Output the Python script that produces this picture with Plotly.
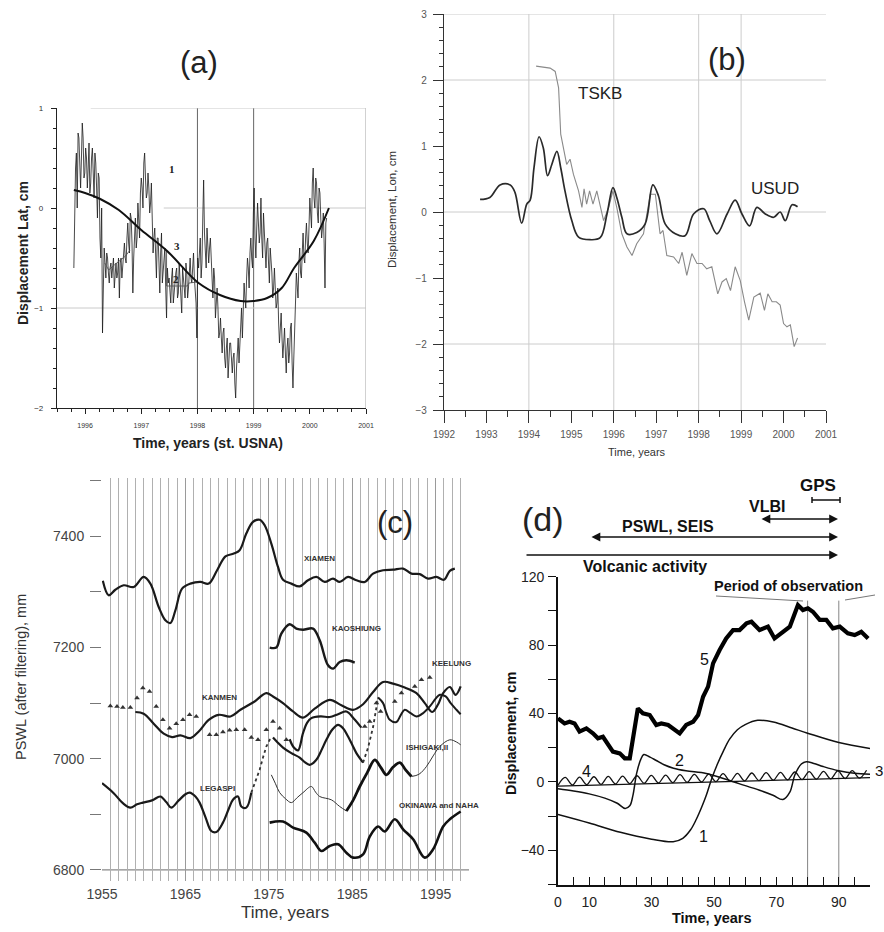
import plotly.graph_objects as go

W, H = 884, 932
FONT = "Liberation Sans, Arial, sans-serif"

# ---------------- Panel (a) data ----------------
# series 1, samples read at t = 1995.800 + 0.03*i
a_lat = [-0.6, 0.4, 0.0, 0.7, 0.2, 0.85, 0.3, 0.6, 0.2, 0.65,
         0.25, 0.6, 0.1, 0.45, -0.1, 0.3, -0.5, -1.25, -0.4, -0.7,
         -0.5, -0.75, -0.55, -0.6, -0.8, -0.55, -0.65, -0.9, -0.5, -0.6,
         -0.35, -0.55, -0.15, -0.45, -0.1, -0.85, -0.2, -0.4, 0.05, -0.3,
         0.3, 0.0, 0.55, 0.1, 0.35, -0.05, 0.25, -0.45, -0.2, -0.7,
         -0.3, -0.85, -0.25, -0.6, -0.4, -1.1, -0.75, -0.9, -0.7, -0.95,
         -0.75, -0.6, -0.85, -0.7, -1.05, -0.75, -0.9, -0.65, -0.8, -0.5,
         -0.75, -0.45, -0.85, -1.3, -0.6, -0.3, -0.55, 0.28, -0.4, -0.2,
         -0.55, -0.3, -0.75, -0.6, -1.1, -0.8, -1.3, -1.1, -1.45, -1.2,
         -1.6, -1.3, -1.55, -1.35, -1.65, -1.45, -1.9, -1.4, -1.55, -1.15,
         -1.3, -0.75, -1.0, -0.5, -0.8, -0.3, -0.6, 0.2, -0.5, 0.05,
         -0.35, 0.1, -0.5, -0.2, -0.6, -0.3, -0.75, -0.5, -0.9, -0.6,
         -1.0, -0.8, -1.35, -1.05, -1.5, -1.2, -1.65, -1.3, -1.45, -1.15,
         -1.8, -1.3, -0.65, -0.9, -0.4, -0.7, -0.25, -0.55, -0.15, -0.45,
         0.1, -0.2, 0.4, 0.0, 0.25, -0.15, 0.15, -0.3, -0.05, -0.8, -0.1]
# series 1, samples read at t = 1995.815 + 0.03*i
a_lat_mid = [0.1, 0.55, 0.75, 0.45, 0.5, 0.7, 0.35, 0.5, 0.4, 0.15,
             0.5, 0.35, 0.55, 0.2, 0.35, -0.3, 0.0, -0.8, -0.55, -0.45,
             -0.65, -0.6, -0.7, -0.5, -0.65, -0.7, -0.5, -0.55, -0.7, -0.45,
             -0.5, -0.3, -0.35, -0.05, -0.35, -0.5, -0.1, -0.3, -0.15, 0.15,
             0.2, 0.45, 0.3, 0.15, 0.2, 0.05, -0.1, -0.3, -0.45, -0.3,
             -0.55, -0.45, -0.75, -0.5, -0.8, -0.6, -0.7, -0.95, -0.6, -0.8,
             -0.65, -0.9, -0.55, -0.85, -0.6, -0.8, -0.55, -0.9, -0.6, -0.7,
             -0.6, -0.7, -0.95, -0.5, -0.4, -0.7, -0.1, -0.25, -0.6, -0.35,
             -0.4, -0.5, -0.9, -0.7, -0.95, -1.0, -1.25, -1.3, -1.25, -1.5,
             -1.4, -1.7, -1.35, -1.5, -1.5, -1.75, -1.6, -1.3, -1.35, -1.0,
             -1.05, -0.9, -0.7, -0.6, -0.45, -0.5, -0.05, -0.3, -0.2, -0.15,
             -0.25, -0.3, -0.05, -0.4, -0.35, -0.55, -0.4, -0.65, -0.8, -0.85,
             -0.95, -1.15, -1.2, -1.3, -1.35, -1.45, -1.4, -1.55, -1.2, -1.55,
             -1.5, -0.95, -0.8, -0.55, -0.65, -0.45, -0.5, -0.3, -0.35, -0.2,
             -0.05, 0.25, 0.1, 0.3, -0.05, 0.2, -0.1, -0.2, -0.35, -0.15]

a_trend_t = [1995.8, 1996.0, 1996.27, 1996.6, 1997.0, 1997.46, 1998.02, 1998.4,
             1998.77, 1999.0, 1999.24, 1999.5, 1999.72, 2000.07, 2000.34]
a_trend_v = [0.18, 0.15, 0.09, -0.02, -0.22, -0.43, -0.75, -0.87,
             -0.93, -0.93, -0.9, -0.8, -0.6, -0.33, 0.0]

a_fill_t = [1996.35, 1996.42, 1996.52, 1996.63, 1996.72, 1996.8, None,
            1997.45, 1997.45, 1997.82, 1997.85, 1998.0]
a_fill_v = [-0.55, -0.62, -0.57, -0.52, -0.48, -0.42, None,
            -0.43, -0.78, -0.78, -0.75, -0.74]

# ---------------- Panel (b) data ----------------
usud_t = [1992.85, 1993.08, 1993.32, 1993.56, 1993.67, 1993.83, 1993.95, 1994.03,
          1994.12, 1994.24, 1994.34, 1994.44, 1994.54, 1994.66, 1994.75, 1994.85,
          1995.01, 1995.17, 1995.44, 1995.68, 1995.84, 1995.98, 1996.07, 1996.19,
          1996.31, 1996.54, 1996.74, 1996.92, 1997.05, 1997.21, 1997.45, 1997.68,
          1997.88, 1998.12, 1998.26, 1998.43, 1998.67, 1998.86, 1999.02, 1999.20,
          1999.37, 1999.57, 1999.77, 1999.92, 2000.04, 2000.20, 2000.33]
usud_v = [0.19, 0.22, 0.41, 0.41, 0.30, -0.17, 0.12, 0.18,
          0.67, 1.14, 0.97, 0.55, 0.72, 0.92, 0.67, 0.32,
          -0.13, -0.38, -0.42, -0.39, -0.03, 0.37, 0.22, -0.08,
          -0.33, -0.31, -0.18, 0.41, 0.25, -0.18, -0.33, -0.36,
          -0.03, 0.05, -0.13, -0.33, -0.03, 0.18, -0.03, -0.21,
          0.07, -0.03, -0.08, 0.0, -0.13, 0.11, 0.08]

tskb_t = [1994.17, 1994.5, 1994.62, 1994.70, 1994.75, 1994.83, 1994.89, 1994.97,
          1995.05, 1995.17, 1995.25, 1995.30, 1995.36, 1995.43, 1995.51, 1995.60,
          1995.68, 1995.76, 1995.88, 1995.98, 1996.07, 1996.19, 1996.31, 1996.43,
          1996.54, 1996.70, 1996.86, 1996.98, 1997.09, 1997.16, 1997.25, 1997.41,
          1997.53, 1997.61, 1997.72, 1997.84, 1997.96, 1998.08, 1998.19, 1998.31,
          1998.45, 1998.55, 1998.65, 1998.75, 1998.86, 1998.98, 1999.08, 1999.18,
          1999.30, 1999.45, 1999.55, 1999.63, 1999.73, 1999.83, 1999.92, 2000.0,
          2000.08, 2000.16, 2000.25, 2000.33]
tskb_v = [2.21, 2.18, 2.13, 1.88, 1.18, 0.92, 0.72, 0.80,
          0.57, 0.32, 0.07, 0.35, 0.12, 0.32, 0.12, 0.32,
          0.07, -0.13, 0.07, 0.32, 0.07, -0.33, -0.53, -0.66,
          -0.48, -0.33, 0.27, 0.27, -0.33, -0.28, -0.66, -0.68,
          -0.78, -0.61, -0.96, -0.63, -0.78, -0.78, -0.86, -0.83,
          -1.24, -1.06, -1.01, -1.19, -0.83, -1.04, -1.36, -1.64,
          -1.29, -1.23, -1.49, -1.24, -1.36, -1.36, -1.41, -1.69,
          -1.74, -1.71, -2.04, -1.91]

# ---------------- Panel (c) data ----------------
xiamen_t = [1955.1, 1955.8, 1956.6, 1957.6, 1958.8, 1960.0, 1960.8, 1961.8, 1962.6,
            1963.2, 1963.8, 1964.6, 1965.6, 1966.8, 1967.8, 1968.8, 1969.8, 1970.8,
            1971.5, 1972.3, 1973.1, 1973.9, 1974.5, 1975.3, 1976.1, 1976.7, 1977.7,
            1978.7, 1979.7, 1980.7, 1981.7, 1982.7, 1983.5, 1984.5, 1985.5, 1986.5,
            1987.5, 1988.7, 1989.9, 1991.1, 1992.1, 1993.1, 1994.1, 1995.1, 1996.0,
            1996.7, 1997.3]
xiamen_v = [7320, 7294, 7304, 7312, 7309, 7327, 7315, 7273, 7249,
            7244, 7267, 7306, 7315, 7318, 7315, 7339, 7364, 7369,
            7375, 7405, 7426, 7430, 7420, 7387, 7345, 7322, 7315,
            7310, 7321, 7327, 7318, 7324, 7318, 7327, 7321, 7318,
            7333, 7339, 7340, 7342, 7333, 7332, 7324, 7327, 7322,
            7338, 7342]

kaoshiung_t = [1975.1, 1975.9, 1976.5, 1977.5, 1978.3, 1979.1, 1980.3, 1981.1,
               1982.1, 1982.7, 1983.5, 1984.3, 1985.3]
kaoshiung_v = [7200, 7200, 7225, 7242, 7234, 7232, 7234, 7213,
               7168, 7162, 7174, 7177, 7173]

kanmen_t = [1959.0, 1960.0, 1961.2, 1962.4, 1963.4, 1964.4, 1965.6, 1966.6, 1967.8,
            1969.0, 1970.4, 1971.6, 1973.2, 1974.7, 1975.5, 1976.7, 1977.9, 1979.1,
            1980.5, 1982.3, 1983.7, 1985.1, 1986.3, 1987.5, 1988.7, 1989.9, 1991.3,
            1992.7, 1993.7, 1994.6, 1995.3, 1995.9, 1996.7, 1997.4, 1998.0]
kanmen_v = [7084, 7081, 7063, 7045, 7039, 7042, 7037, 7049, 7070,
            7079, 7076, 7088, 7102, 7118, 7112, 7100, 7085, 7074,
            7090, 7106, 7096, 7088, 7098, 7120, 7138, 7135, 7128,
            7118, 7100, 7084, 7098, 7118, 7129, 7115, 7130]

keelung_t = [1956.0, 1956.8, 1957.5, 1958.4, 1959.2, 1959.9, 1960.7, 1961.5, 1962.3,
             1963.1, 1963.9, 1964.7, 1965.5, 1966.3, 1967.9, 1968.7, 1969.5, 1970.3,
             1971.1, 1972.1, 1972.9, 1973.7, 1974.7, 1975.5, 1976.3, 1977.1,
             1986.5, 1987.1, 1987.9, 1988.4, 1990.1, 1990.9, 1992.5, 1993.3, 1994.3]
keelung_v = [7095, 7094, 7092, 7092, 7109, 7127, 7121, 7094, 7070,
             7055, 7063, 7070, 7079, 7076, 7043, 7043, 7048, 7051,
             7052, 7052, 7038, 7034, 7052, 7067, 7055, 7034,
             7058, 7067, 7100, 7085, 7103, 7118, 7130, 7142, 7146]

ishigaki_t = [1977.5, 1978.0, 1978.5, 1979.1, 1979.6, 1980.1, 1981.2, 1982.3,
              1983.3, 1984.3, 1985.2, 1986.1]
ishigaki_v = [7035, 7020, 7015, 7046, 7065, 7073, 7076, 7075,
              7080, 7085, 7072, 7056]

legaspi_a_t = [1955.0, 1956.4, 1957.5, 1958.4, 1959.2, 1959.9, 1961.0, 1962.0, 1962.7,
               1963.3, 1964.2, 1965.0, 1965.5, 1966.2, 1966.7, 1967.4, 1968.1, 1968.7,
               1969.5, 1970.2, 1970.7, 1971.3, 1971.7, 1972.3, 1972.9]
legaspi_a_v = [6956, 6938, 6920, 6912, 6918, 6921, 6925, 6932, 6922,
               6912, 6925, 6936, 6939, 6932, 6921, 6895, 6870, 6868,
               6885, 6910, 6926, 6932, 6914, 6912, 6939]
legaspi_gap1_t = [1972.9, 1973.4, 1973.9, 1974.3, 1974.7, 1975.1, 1975.5]
legaspi_gap1_v = [6939, 6958, 6980, 7002, 7022, 7034, 7038]
legaspi_b_t = [1975.5, 1976.0, 1976.7, 1977.7, 1978.7, 1979.3, 1979.9, 1980.7, 1981.3,
               1981.9, 1982.6, 1983.3, 1983.9, 1984.5, 1985.0, 1985.5, 1986.3]
legaspi_b_v = [7038, 7030, 7020, 7010, 7002, 6994, 6989, 6998, 7015,
               7034, 7052, 7061, 7055, 7040, 7025, 7010, 6993]
legaspi_gap2_t = [1986.3, 1986.9, 1987.5, 1987.8, 1988.1]
legaspi_gap2_v = [6993, 7020, 7057, 7085, 7110]
legaspi_c_t = [1988.1, 1988.7, 1989.1, 1989.5, 1990.3, 1990.8, 1991.3, 1992.0, 1992.7,
               1993.5, 1994.3, 1995.0, 1995.5, 1996.2, 1996.8, 1997.5, 1998.0]
legaspi_c_v = [7110, 7100, 7082, 7070, 7066, 7078, 7088, 7082, 7076,
               7082, 7094, 7108, 7115, 7112, 7100, 7088, 7080]

okinawa_a_t = [1975.3, 1975.8, 1976.3, 1977.0, 1977.7, 1978.4, 1979.1, 1980.1, 1980.6,
               1981.1, 1982.5, 1983.5, 1984.3]
okinawa_a_v = [6971, 6955, 6939, 6928, 6921, 6930, 6939, 6950, 6940,
               6932, 6926, 6914, 6906]
okinawa_b_t = [1984.3, 1985.1, 1985.9, 1986.8, 1987.7, 1988.4, 1989.1, 1989.9, 1990.7,
               1991.4, 1992.1]
okinawa_b_v = [6906, 6925, 6950, 6975, 6998, 6985, 6971, 6985, 6993, 6980, 6968]
okinawa_c_t = [1992.1, 1993.0, 1993.9, 1994.7, 1995.5, 1996.7, 1997.5, 1998.0]
okinawa_c_v = [6968, 6972, 6986, 7005, 7022, 7034, 7030, 7025]

naha_t = [1975.1, 1976.7, 1977.9, 1979.5, 1980.5, 1981.3, 1982.3, 1983.3, 1984.3,
          1985.1, 1986.3, 1987.1, 1988.1, 1988.9, 1990.1, 1991.1, 1992.3, 1993.7,
          1994.7, 1995.9, 1996.7, 1998.0]
naha_v = [6885, 6887, 6876, 6867, 6849, 6834, 6843, 6846, 6831,
          6822, 6828, 6860, 6878, 6869, 6891, 6873, 6855, 6822,
          6837, 6878, 6891, 6905]

# ---------------- Panel (d) data ----------------
d5_t = [0, 2.1, 3.7, 5.3, 6.9, 9.1, 11.2, 12.8, 14.4, 16.0, 17.6, 19.8, 21.4, 23.0,
        24.0, 25.6, 27.2, 29.4, 31.5, 33.1, 35.3, 36.9, 39.0, 41.1, 43.3, 44.9, 46.5,
        48.1, 49.7, 51.8, 53.9, 56.1, 58.2, 60.4, 62.0, 64.6, 67.3, 69.4, 72.1, 74.3,
        76.9, 78.5, 80.1, 81.7, 83.9, 86.0, 88.1, 90.3, 92.9, 95.1, 97.2, 99.4]
d5_v = [37.2, 34.2, 35.2, 34.2, 29.4, 31.3, 28.4, 25.5, 26.4, 21.6, 17.7, 16.7, 13.8, 13.8,
        26.4, 43.0, 40.1, 39.1, 33.3, 34.2, 33.3, 31.3, 28.4, 33.3, 35.2, 39.1, 49.8,
        55.7, 69.3, 77.1, 83.9, 88.8, 88.8, 92.7, 93.7, 88.8, 90.8, 83.9, 87.8, 90.8,
        103.4, 100.5, 101.5, 99.5, 94.7, 94.7, 89.8, 90.8, 86.9, 85.9, 87.8, 83.9]

d1_t = [0, 10, 20, 30, 36.9, 40, 42.5, 44.3, 46, 47.5, 49.1, 51, 53, 55, 57.5, 60,
        64, 69, 75, 80, 90, 100]
d1_v = [-19, -24, -29.5, -33.5, -35, -33, -28, -22, -15, -8, 1, 10, 18, 25, 30.5, 33.5,
        36, 35, 31.5, 28.5, 23, 19.5]

d2_t = [0, 5, 10, 15, 19, 21.5, 23, 24, 25.2, 26.5, 27.5, 29.5, 31.5, 34, 37, 41,
        47.5, 53, 58, 64.6, 68.9, 72.1, 74.3, 75.9, 78, 79.6, 82, 85, 90, 95, 100]
d2_v = [-4, -5.3, -7, -9.5, -12.5, -15.5, -14, -8, 5, 13, 16, 14.5, 12.5, 10, 8, 6.5,
        4.9, 2.0, -1.0, -4.9, -7.8, -10.3, -6, 4, 10.5, 11.8, 10.8, 9, 6.5, 5, 4.5]

d3_t = [0, 100]
d3_v = [-2.5, 2.5]

d4_t = [0, 2.3, 4.6, 6.9, 9.2, 11.5, 13.8, 16.1, 18.4, 20.7, 23.0, 25.3, 27.6, 29.9,
        32.2, 34.5, 36.8, 39.1, 41.4, 43.7, 46.0, 48.3, 50.6, 52.9, 55.2, 57.5, 59.8,
        62.1, 64.4, 66.7, 69.0, 71.3, 73.6, 75.9, 78.2, 80.5, 82.8, 85.1, 87.4, 89.7,
        92.0, 94.3, 96.6, 98.9]
d4_v = [-2.0, 2.6, -1.8, 2.8, -1.6, 3.0, -1.4, 3.2, -1.2, 3.4, -1.0, 3.6, -0.8, 3.8,
        -0.6, 4.0, -0.4, 4.2, -0.2, 4.4, 0.0, 4.6, 0.2, 4.8, 0.4, 5.0, 0.6,
        5.2, 0.8, 5.4, 1.0, 5.6, 1.2, 5.8, 1.4, 6.0, 1.6, 6.2, 1.8, 6.4,
        2.0, 6.6, 2.2, 6.8]

# merge the two sample sets of series 1 in time order
a_series_t, a_series_v = [], []
for i in range(len(a_lat)):
    a_series_t.append(round(1995.800 + 0.03 * i, 3))
    a_series_v.append(a_lat[i])
    if i < len(a_lat_mid):
        a_series_t.append(round(1995.815 + 0.03 * i, 3))
        a_series_v.append(a_lat_mid[i])


def P(px, py):
    return px / W, 1 - py / H


fig = go.Figure()


def line(x, y, ax, color="#111", width=1.0, dash="solid", shape="linear"):
    fig.add_trace(go.Scatter(x=x, y=y, mode="lines", xaxis="x" + ax, yaxis="y" + ax,
                             line=dict(color=color, width=width, dash=dash, shape=shape),
                             hoverinfo="skip", connectgaps=False))


# panel a
line(a_series_t, a_series_v, "", color="#1c1c1c", width=0.8)
line(a_fill_t, a_fill_v, "", color="#555", width=0.9)
line(a_trend_t, a_trend_v, "", color="#111", width=2.0, shape="spline")
# panel b
line(tskb_t, tskb_v, "2", color="#8a8a8a", width=1.1)
line(usud_t, usud_v, "2", color="#2a2a2a", width=1.7, shape="spline")
# panel c
line(xiamen_t, xiamen_v, "3", color="#1a1a1a", width=2.2, shape="spline")
line(kaoshiung_t, kaoshiung_v, "3", color="#1a1a1a", width=2.4, shape="spline")
line(kanmen_t, kanmen_v, "3", color="#1a1a1a", width=2.2, shape="spline")
line(ishigaki_t, ishigaki_v, "3", color="#1a1a1a", width=2.2, shape="spline")
line(legaspi_a_t, legaspi_a_v, "3", color="#1a1a1a", width=2.2, shape="spline")
line(legaspi_gap1_t, legaspi_gap1_v, "3", color="#333", width=1.8, dash="dot")
line(legaspi_b_t, legaspi_b_v, "3", color="#1a1a1a", width=2.2, shape="spline")
line(legaspi_gap2_t, legaspi_gap2_v, "3", color="#333", width=1.8, dash="dot")
line(legaspi_c_t, legaspi_c_v, "3", color="#1a1a1a", width=2.0, shape="spline")
line(okinawa_a_t, okinawa_a_v, "3", color="#333", width=1.0, shape="spline")
line(okinawa_b_t, okinawa_b_v, "3", color="#111", width=2.8, shape="spline")
line(okinawa_c_t, okinawa_c_v, "3", color="#333", width=1.0, shape="spline")
line(naha_t, naha_v, "3", color="#111", width=2.6, shape="spline")
fig.add_trace(go.Scatter(x=keelung_t, y=keelung_v, mode="markers", xaxis="x3", yaxis="y3",
                         marker=dict(symbol="triangle-up", size=5, color="#333"),
                         hoverinfo="skip"))
# panel d
line(d3_t, d3_v, "4", color="#111", width=1.3)
line(d4_t, d4_v, "4", color="#111", width=1.3, shape="spline")
line(d1_t, d1_v, "4", color="#111", width=1.5, shape="spline")
line(d2_t, d2_v, "4", color="#111", width=1.5, shape="spline")
line(d5_t, d5_v, "4", color="#000", width=4.2)

fig.update_layout(
    width=W, height=H, margin=dict(l=0, r=0, t=0, b=0, autoexpand=False),
    paper_bgcolor="white", plot_bgcolor="white", showlegend=False,
    font=dict(family=FONT, color="#222"),
    xaxis=dict(domain=[57 / W, 366 / W], range=[1995.5, 2001], anchor="y", automargin=False,
               tick0=1996, dtick=1, ticks="outside", ticklen=5, tickcolor="#222",
               minor=dict(dtick=0.25, tick0=1996, ticks="outside", ticklen=3, tickcolor="#222"),
               showline=True, linecolor="#222", linewidth=1.2, showgrid=False, zeroline=False,
               tickfont=dict(family=FONT, size=7, color="#333"), ticklabelstandoff=5),
    yaxis=dict(domain=[1 - 408 / H, 1 - 108 / H], range=[-2, 1], anchor="x", automargin=False,
               tickvals=[-2, -1, 0, 1], ticks="outside", ticklen=5, tickcolor="#222",
               minor=dict(dtick=0.2, tick0=0, ticks="outside", ticklen=3, tickcolor="#222"),
               showline=True, linecolor="#222", linewidth=1.2, showgrid=False, zeroline=False,
               tickfont=dict(family=FONT, size=8, color="#333"), ticklabelstandoff=6),
    xaxis2=dict(domain=[444 / W, 826 / W], range=[1992, 2001], anchor="y2", automargin=False,
                tick0=1992, dtick=1, ticks="outside", ticklen=12, tickcolor="#333",
                minor=dict(dtick=0.5, tick0=1992, ticks="outside", ticklen=6, tickcolor="#333"),
                showline=True, linecolor="#333", linewidth=1.3, showgrid=False, zeroline=False,
                tickfont=dict(family=FONT, size=10, color="#555"), ticklabelstandoff=3),
    yaxis2=dict(domain=[1 - 410 / H, 1 - 14 / H], range=[-3, 3], anchor="x2", automargin=False,
                tick0=0, dtick=1, ticks="outside", ticklen=10, tickcolor="#333",
                minor=dict(dtick=0.2, tick0=0, ticks="outside", ticklen=4, tickcolor="#333"),
                showline=True, linecolor="#333", linewidth=1.3, showgrid=False, zeroline=False,
                tickfont=dict(family=FONT, size=10, color="#555"), ticklabelstandoff=4),
    xaxis3=dict(domain=[102 / W, 469 / W], range=[1955, 1999], anchor="y3", automargin=False,
                tick0=1955, dtick=10, ticks="", showline=False, zeroline=False,
                showgrid=True, gridcolor="#9a9a9a", gridwidth=1,
                minor=dict(dtick=1, tick0=1955, showgrid=True, gridcolor="#b0b0b0", gridwidth=1),
                tickfont=dict(family=FONT, size=14, color="#444"), ticklabelstandoff=3),
    yaxis3=dict(domain=[1 - 881 / H, 1 - 478 / H], range=[6780, 7505], anchor="x3", automargin=False,
                tickvals=[6800, 7000, 7200, 7400], ticks="outside", ticklen=11, tickcolor="#777",
                minor=dict(dtick=100, tick0=6800, ticks="outside", ticklen=11, tickcolor="#777"),
                showline=False, showgrid=False, zeroline=False,
                tickfont=dict(family=FONT, size=14, color="#444"), ticklabelstandoff=3),
    xaxis4=dict(domain=[558 / W, 870 / W], range=[0, 100], anchor="y4", automargin=False,
                tickvals=[0, 10, 30, 50, 70, 90], ticks="inside", ticklen=8, tickcolor="#111",
                minor=dict(dtick=5, tick0=0, ticks="inside", ticklen=8, tickcolor="#111"),
                showline=True, linecolor="#111", linewidth=1.6, showgrid=False, zeroline=False,
                tickfont=dict(family=FONT, size=14, color="#222"), ticklabelstandoff=4),
    yaxis4=dict(domain=[1 - 884.5 / H, 1 - 576.7 / H], range=[-60, 120], anchor="x4",
                automargin=False,
                tickvals=[-40, 0, 40, 80, 120], ticks="outside", ticklen=8, tickcolor="#111",
                minor=dict(dtick=20, tick0=0, ticks="outside", ticklen=8, tickcolor="#111"),
                showline=True, linecolor="#111", linewidth=1.6, showgrid=False, zeroline=False,
                tickfont=dict(family=FONT, size=14, color="#222"), ticklabelstandoff=1),
)

shapes = []


def dline(ax, x0, y0, x1, y1, color, width=1.0, dash="solid"):
    shapes.append(dict(type="line", xref="x" + ax, yref="y" + ax, x0=x0, y0=y0, x1=x1, y1=y1,
                       line=dict(color=color, width=width, dash=dash), layer="below"))


def pline(p0, p1, color, width=1.0):
    x0, y0 = P(*p0)
    x1, y1 = P(*p1)
    shapes.append(dict(type="line", xref="paper", yref="paper", x0=x0, y0=y0, x1=x1, y1=y1,
                       line=dict(color=color, width=width)))


# panel a guides
dline("", 1998, -2, 1998, 1, "#555", 0.9)
dline("", 1999, -2, 1999, 1, "#555", 0.9)
dline("", 2001, -2, 2001, 1, "#999", 0.9)
dline("", 1996.1, 1, 2001, 1, "#c4c4c4", 0.9)
dline("", 1997.4, 0, 2001, 0, "#c4c4c4", 0.9)
dline("", 1995.5, -1, 2001, -1, "#c4c4c4", 0.9)
# panel b grid
for gx in [1994, 1996, 1998, 1999]:
    dline("2", gx, -3, gx, 3, "#cccccc", 1.0)
for gy in [3, 2, 0, -2]:
    dline("2", 1992, gy, 2001, gy, "#cccccc", 1.0)
# panel c base line
dline("3", 1955, 6800, 1999, 6800, "#888", 1.2)
# panel d observation lines
dline("4", 80, -60, 80, 106, "#777", 0.9)
dline("4", 90, -60, 90, 106, "#777", 0.9)
pline((716, 596), (803, 601), "#777", 1.0)
pline((845, 600), (875, 595), "#777", 1.0)
# GPS bar
pline((812, 500), (840, 500), "#111", 1.5)
pline((812, 497), (812, 503), "#111", 1.5)
pline((840, 497), (840, 503), "#111", 1.5)
fig.update_layout(shapes=shapes)

ann = []


def ptext(px, py, text, size, color="#222", angle=0, family=FONT):
    x, y = P(px, py)
    ann.append(dict(x=x, y=y, xref="paper", yref="paper", text=text, showarrow=False,
                    textangle=angle, font=dict(family=family, size=size, color=color),
                    xanchor="center", yanchor="middle"))


def dtext(ax, x, y, text, size, color="#222", family=FONT):
    ann.append(dict(x=x, y=y, xref="x" + ax, yref="y" + ax, text=text, showarrow=False,
                    font=dict(family=family, size=size, color=color),
                    xanchor="center", yanchor="middle"))


def arrow(p_from, p_to, both=False):
    x, y = P(*p_to)
    ann.append(dict(x=x, y=y, xref="paper", yref="paper", text="", showarrow=True,
                    ax=p_from[0] - p_to[0], ay=p_from[1] - p_to[1], axref="pixel", ayref="pixel",
                    arrowhead=2, arrowsize=1.1, arrowwidth=1.6, arrowcolor="#111",
                    arrowside="end+start" if both else "end"))


# panel titles
ptext(199, 62, "(a)", 31)
ptext(727, 60, "(b)", 31)
ptext(395, 522, "(c)", 31)
ptext(543, 519, "(d)", 34)
# axis titles
ptext(23, 253, "<b>Displacement Lat, cm</b>", 14, "#222", -90)
ptext(208, 443, "<b>Time, years (st. USNA)</b>", 14, "#222")
ptext(392, 210, "Displacement, Lon, cm", 11.5, "#333", -90)
ptext(637, 452, "Time, years", 11, "#333")
ptext(21, 677, "PSWL (after filtering), mm", 14.5, "#333", -90)
ptext(285, 912, "Time, years", 17, "#333")
ptext(511, 733, "<b>Displacement, cm</b>", 14.5, "#111", -90)
ptext(712, 918, "<b>Time, years</b>", 14.5, "#111")
# panel a labels
SERIF = "Liberation Serif, Times New Roman, serif"
dtext("", 1997.55, 0.39, "<b>1</b>", 11, "#222", SERIF)
dtext("", 1997.64, -0.38, "<b>3</b>", 11, "#222", SERIF)
dtext("", 1997.61, -0.71, "<b>2</b>", 11, "#222", SERIF)
# panel b labels
dtext("2", 1995.68, 1.8, "TSKB", 17, "#222")
dtext("2", 1999.8, 0.36, "USUD", 17, "#222")
# panel c labels
for x, y, t in [(1981.1, 7361, "XIAMEN"), (1985.5, 7235, "KAOSHIUNG"),
                (1996.9, 7172, "KEELUNG"), (1969.1, 7111, "KANMEN"),
                (1994.0, 7020, "ISHIGAKI,II"), (1968.9, 6946, "LEGASPI"),
                (1995.4, 6916, "OKINAWA and NAHA")]:
    dtext("3", x, y, "<b>" + t + "</b>", 8, "#333")
# panel d labels
dtext("4", 47.0, 71.3, "5", 16, "#111")
dtext("4", 39.0, 12.8, "2", 16, "#111")
dtext("4", 46.5, -32, "1", 16, "#111")
dtext("4", 9.1, 6.0, "4", 16, "#111")
ptext(879, 770, "3", 15, "#111")
ptext(788, 586, "<b>Period of observation</b>", 14.5, "#111")
ptext(645, 566, "<b>Volcanic activity</b>", 16, "#111")
ptext(668, 526, "<b>PSWL, SEIS</b>", 16, "#111")
ptext(767, 507, "<b>VLBI</b>", 16, "#111")
ptext(818, 485, "<b>GPS</b>", 17, "#111")
arrow((525, 555), (838, 555))
arrow((590, 537), (838, 537), both=True)
arrow((760, 519), (838, 519), both=True)
fig.update_layout(annotations=ann)

fig.write_html("out.html", config={"displayModeBar": False},
               post_script="document.body.style.margin='0';document.body.style.padding='0';"
                           "document.documentElement.style.overflow='hidden';")
